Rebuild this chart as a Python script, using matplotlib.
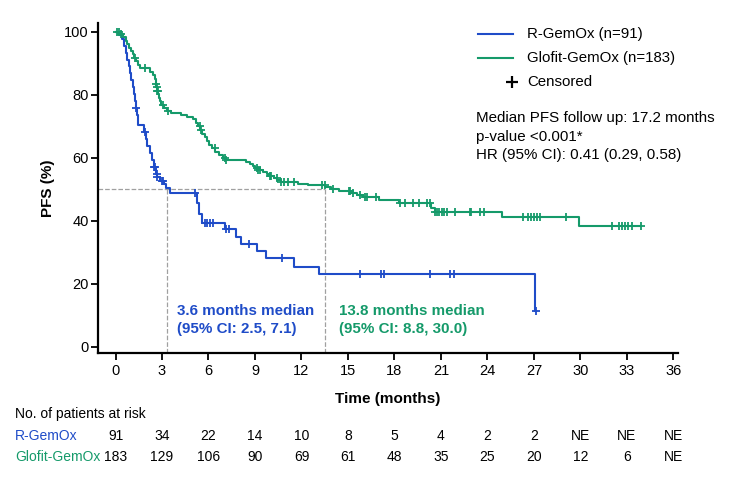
import numpy as np
import matplotlib
matplotlib.use('Agg')
import matplotlib.pyplot as plt
from matplotlib.lines import Line2D
import matplotlib.transforms as mtransforms

plt.rcParams['font.family'] = ['Liberation Sans', 'DejaVu Sans']

## Step curves (time in months, PFS in %) ##
r_times = [0, 0.2, 0.4, 0.55, 0.65, 0.75, 0.85, 0.95, 1.02, 1.1, 1.17, 1.25, 1.3, 1.4,
           1.45, 1.85, 1.95, 2.05, 2.2, 2.35, 2.5, 2.6, 2.7, 2.85, 3.1, 3.25, 3.5,
           5.25, 5.4, 5.55, 7.05, 7.8, 8.13, 9.14, 9.68, 11.52, 13.11, 27.06]
r_surv = [100, 98.9, 97.8, 95.6, 93.4, 91.2, 89.0, 86.8, 84.6, 82.4, 80.2, 78.0, 75.8, 73.6,
          70.3, 68.1, 65.9, 63.7, 61.5, 59.3, 57.1, 54.9, 53.8, 52.7, 51.6, 50.5, 48.9,
          45.6, 42.3, 39.2, 37.3, 34.9, 32.6, 30.4, 28.1, 25.4, 23.0, 11.3]
r_cens = [1.35, 1.9, 2.5, 2.55, 2.65, 2.7, 2.97, 3.05, 5.12, 5.77, 5.93, 6.09, 6.28,
          7.12, 7.31, 8.6, 10.75, 15.8, 17.15, 17.3, 20.3, 21.6, 21.85, 27.15]

g_times = [0, 0.3, 0.5, 0.65, 0.75, 0.9, 1.0, 1.1, 1.2, 1.35, 1.45, 1.55, 2.2, 2.45, 2.55,
           2.6, 2.63, 2.67, 2.75, 2.8, 2.85, 2.95, 3.1, 3.3, 3.6, 4.2, 4.6, 5.0, 5.2, 5.35,
           5.45, 5.6, 5.75, 5.9, 6.05, 6.2, 6.45, 6.7, 6.95, 7.15, 8.45, 8.65, 8.85, 9.0,
           9.2, 9.5, 9.75, 9.95, 10.2, 10.45, 10.7, 11.8, 12.4, 13.55, 13.9, 14.4, 15.2,
           15.6, 16.0, 17.0, 18.3, 20.38, 20.6, 24.93, 29.94]
g_surv = [100, 99.4, 98.3, 97.2, 96.1, 95.0, 93.9, 92.8, 91.7, 90.6, 89.5, 88.4, 87.3, 86.2, 85.1,
          83.5, 82.4, 81.3, 80.2, 79.1, 78.0, 76.9, 75.8, 74.7, 74.1, 73.5, 72.9, 72.3, 71.1, 70.0,
          68.8, 67.7, 66.5, 65.4, 64.2, 63.1, 61.9, 60.8, 59.8, 59.2, 58.6, 58.0, 57.4, 56.8,
          56.2, 55.5, 54.9, 54.2, 53.6, 53.0, 52.4, 51.8, 51.2, 50.6, 50.0, 49.5, 48.9,
          48.3, 47.6, 46.6, 45.5, 44.2, 42.9, 41.3, 38.4]
g_cens = [0.1, 0.2, 0.35, 1.25, 1.9, 2.62, 2.65, 2.68, 2.72, 3.08, 3.4, 5.44, 5.5, 6.41,
          7.05, 7.16, 9.1, 9.2, 9.3, 9.95, 10.05, 10.4, 10.7, 10.9, 11.1, 11.5, 13.35, 13.5,
          14.04, 15.05, 15.15, 15.3, 15.76, 16.1, 16.2, 16.8, 18.34, 18.66, 19.17, 19.6,
          20.1, 20.3, 20.65, 20.75, 20.9, 21.05, 21.2, 21.4, 21.9, 22.85, 22.96, 23.5, 23.8,
          26.3, 26.6, 26.8, 27.0, 27.2, 27.4, 29.04, 32.05, 32.5, 32.7, 32.9, 33.1, 33.35, 33.9]

median_x = [3.35, 13.55]   # where the dashed median lines sit in the picture

risk_times = list(range(0, 37, 3))
risk_r = ['91', '34', '22', '14', '10', '8', '5', '4', '2', '2', 'NE', 'NE', 'NE']
risk_g = ['183', '129', '106', '90', '69', '61', '48', '35', '25', '20', '12', '6', 'NE']

BLUE = '#1f4cc8'
GREEN = '#159a6a'


def surv_at(times, surv, t):
    idx = np.searchsorted(times, t, side='right') - 1
    return np.array(surv)[idx]


def fx(px):
    return px / 729.0


def fy(py):
    return 1 - py / 486.0


fig = plt.figure(figsize=(7.29, 4.86), dpi=100)
ax = fig.add_axes([fx(98), fy(353), fx(678) - fx(98), fy(23) - fy(353)])

for times, surv, cens, col in [(r_times, r_surv, r_cens, BLUE), (g_times, g_surv, g_cens, GREEN)]:
    xs = list(times) + [max(cens)]
    ys = list(surv) + [surv[-1]]
    ax.step(xs, ys, where='post', color=col, lw=1.5, zorder=3)
    ax.plot(cens, surv_at(times, surv, cens), ls='none', marker='+', ms=6, mew=1.3,
            color=col, zorder=4)

# median guides
ax.plot([-1.13, median_x[1]], [50, 50], ls='--', color='#a0a0a0', lw=0.9, zorder=1)
for m in median_x:
    ax.plot([m, m], [-2, 50], ls='--', color='#a0a0a0', lw=0.9, zorder=1)

ax.set_xlim(-1.13, 36.3)
ax.set_ylim(-2, 102.8)
ax.set_xticks(risk_times)
ax.set_yticks(range(0, 101, 20))
ax.spines['top'].set_visible(False)
ax.spines['right'].set_visible(False)
ax.spines['left'].set_linewidth(1.6)
ax.spines['bottom'].set_linewidth(1.6)
ax.tick_params(direction='out', length=5, width=1.3, labelsize=10.5)
ax.tick_params(axis='y', pad=1.5)
ax.tick_params(axis='x', pad=3)
ax.set_xlabel('Time (months)', fontsize=11, fontweight='bold', labelpad=10)
ax.set_ylabel('PFS (%)', fontsize=11, fontweight='bold', labelpad=7)

ax.text(4.0, 8.5, '3.6 months median\n(95% CI: 2.5, 7.1)', color=BLUE, fontsize=10.9,
        fontweight='bold', va='center', ha='left', linespacing=1.3)
ax.text(14.4, 8.5, '13.8 months median\n(95% CI: 8.8, 30.0)', color=GREEN, fontsize=10.9,
        fontweight='bold', va='center', ha='left', linespacing=1.3)

# legend drawn by hand
fig.add_artist(Line2D([fx(478), fx(513)], [fy(34), fy(34)], color=BLUE, lw=1.5,
                      transform=fig.transFigure))
fig.add_artist(Line2D([fx(478), fx(513)], [fy(58), fy(58)], color=GREEN, lw=1.5,
                      transform=fig.transFigure))
fig.add_artist(Line2D([fx(512)], [fy(82)], color='black', marker='+', ms=9, mew=1.6,
                      ls='none', transform=fig.transFigure))
fig.text(fx(527), fy(34), 'R-GemOx (n=91)', fontsize=10.8, va='center')
fig.text(fx(527), fy(58), 'Glofit-GemOx (n=183)', fontsize=10.8, va='center')
fig.text(fx(527), fy(82), 'Censored', fontsize=10.8, va='center')
fig.text(fx(476), fy(118), 'Median PFS follow up: 17.2 months', fontsize=10.9, va='center')
fig.text(fx(476), fy(137), 'p-value <0.001*', fontsize=10.9, va='center')
fig.text(fx(476), fy(155), 'HR (95% CI): 0.41 (0.29, 0.58)', fontsize=10.9, va='center')

# number at risk table
trans = mtransforms.blended_transform_factory(ax.transData, fig.transFigure)
fig.text(fx(15), fy(414), 'No. of patients at risk', fontsize=10, va='center')
fig.text(fx(15), fy(436), 'R-GemOx', fontsize=10, va='center', color=BLUE)
fig.text(fx(15), fy(457), 'Glofit-GemOx', fontsize=10, va='center', color=GREEN)
for t, a, b in zip(risk_times, risk_r, risk_g):
    ax.text(t, fy(436), a, transform=trans, ha='center', va='center', fontsize=10)
    ax.text(t, fy(457), b, transform=trans, ha='center', va='center', fontsize=10)

fig.savefig('out.png', dpi=100)
